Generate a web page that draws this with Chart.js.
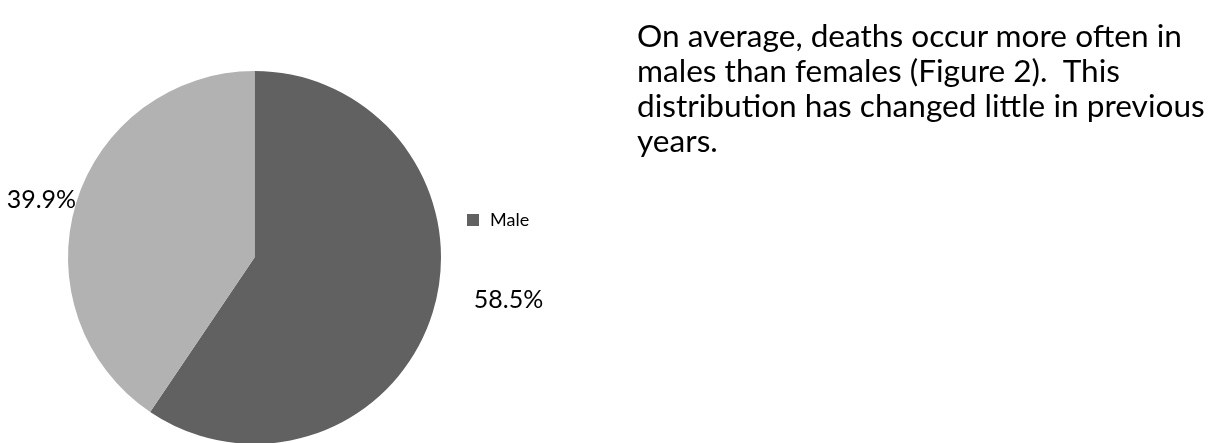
<!DOCTYPE html>
<html>
<head>
<meta charset="utf-8">
<script src="https://cdn.jsdelivr.net/npm/chart.js@4"></script>
<style>
  html, body { margin: 0; padding: 0; background: #fff; overflow: hidden; width: 1213px; height: 443px; }
  #wrap { position: absolute; left: 0; top: 0; width: 1213px; height: 460px; }
  #note { position: absolute; left: 637px; top: 18px; width: 576px; white-space: nowrap; font-family: Lato, "Open Sans", sans-serif; font-size: 31.6px; line-height: 35px; color: #000; }
</style>
</head>
<body>
<div id="wrap"><canvas id="c"></canvas></div>
<div id="note">On average, deaths occur more often in<br>males than females (Figure 2).&nbsp; This<br>distribution has changed little in previous<br>years.</div>
<script>
const categories = ["Male", "Female"];
const values = [58.5, 39.9];
const valueLabels = ["58.5%", "39.9%"];
const colors = ["#616161", "#b2b2b2"];
const legendItems = ["Male"];

const labelPlugin = {
  id: 'labels',
  afterDatasetsDraw(chart) {
    const ctx = chart.ctx;
    const meta = chart.getDatasetMeta(0);
    ctx.save();
    ctx.font = '25px Lato, "Open Sans", sans-serif';
    ctx.fillStyle = '#000';
    ctx.textBaseline = 'middle';
    meta.data.forEach((arc, i) => {
      const mid = (arc.startAngle + arc.endAngle) / 2;
      const r = arc.outerRadius;
      let x = arc.x + Math.cos(mid) * r;
      let y = arc.y + Math.sin(mid) * r;
      if (i === 0) {
        ctx.textAlign = 'left';
        ctx.fillText(valueLabels[i], x + 41, y - 12);
      } else {
        ctx.textAlign = 'right';
        ctx.fillText(valueLabels[i], x, y - 3);
      }
    });
    // legend
    const ca = chart.chartArea;
    const lx = ca.right + 26, ly = ca.top + 149;
    ctx.font = '18px Lato, "Open Sans", sans-serif';
    legendItems.forEach((name, k) => {
      const idx = categories.indexOf(name);
      ctx.fillStyle = colors[idx];
      ctx.fillRect(lx, ly - 6 + k * 24, 12, 12);
      ctx.fillStyle = '#000';
      ctx.textAlign = 'left';
      ctx.fillText(name, lx + 23, ly + k * 24);
    });
    ctx.restore();
  }
};

new Chart(document.getElementById('c'), {
  type: 'pie',
  data: {
    labels: categories,
    datasets: [{ data: values, backgroundColor: colors, borderWidth: 0 }]
  },
  options: {
    responsive: true,
    maintainAspectRatio: false,
    animation: false,
    layout: { padding: { left: 68, right: 772, top: 71, bottom: 16 } },
    plugins: { legend: { display: false }, tooltip: { enabled: false } }
  },
  plugins: [labelPlugin]
});
</script>
</body>
</html>
